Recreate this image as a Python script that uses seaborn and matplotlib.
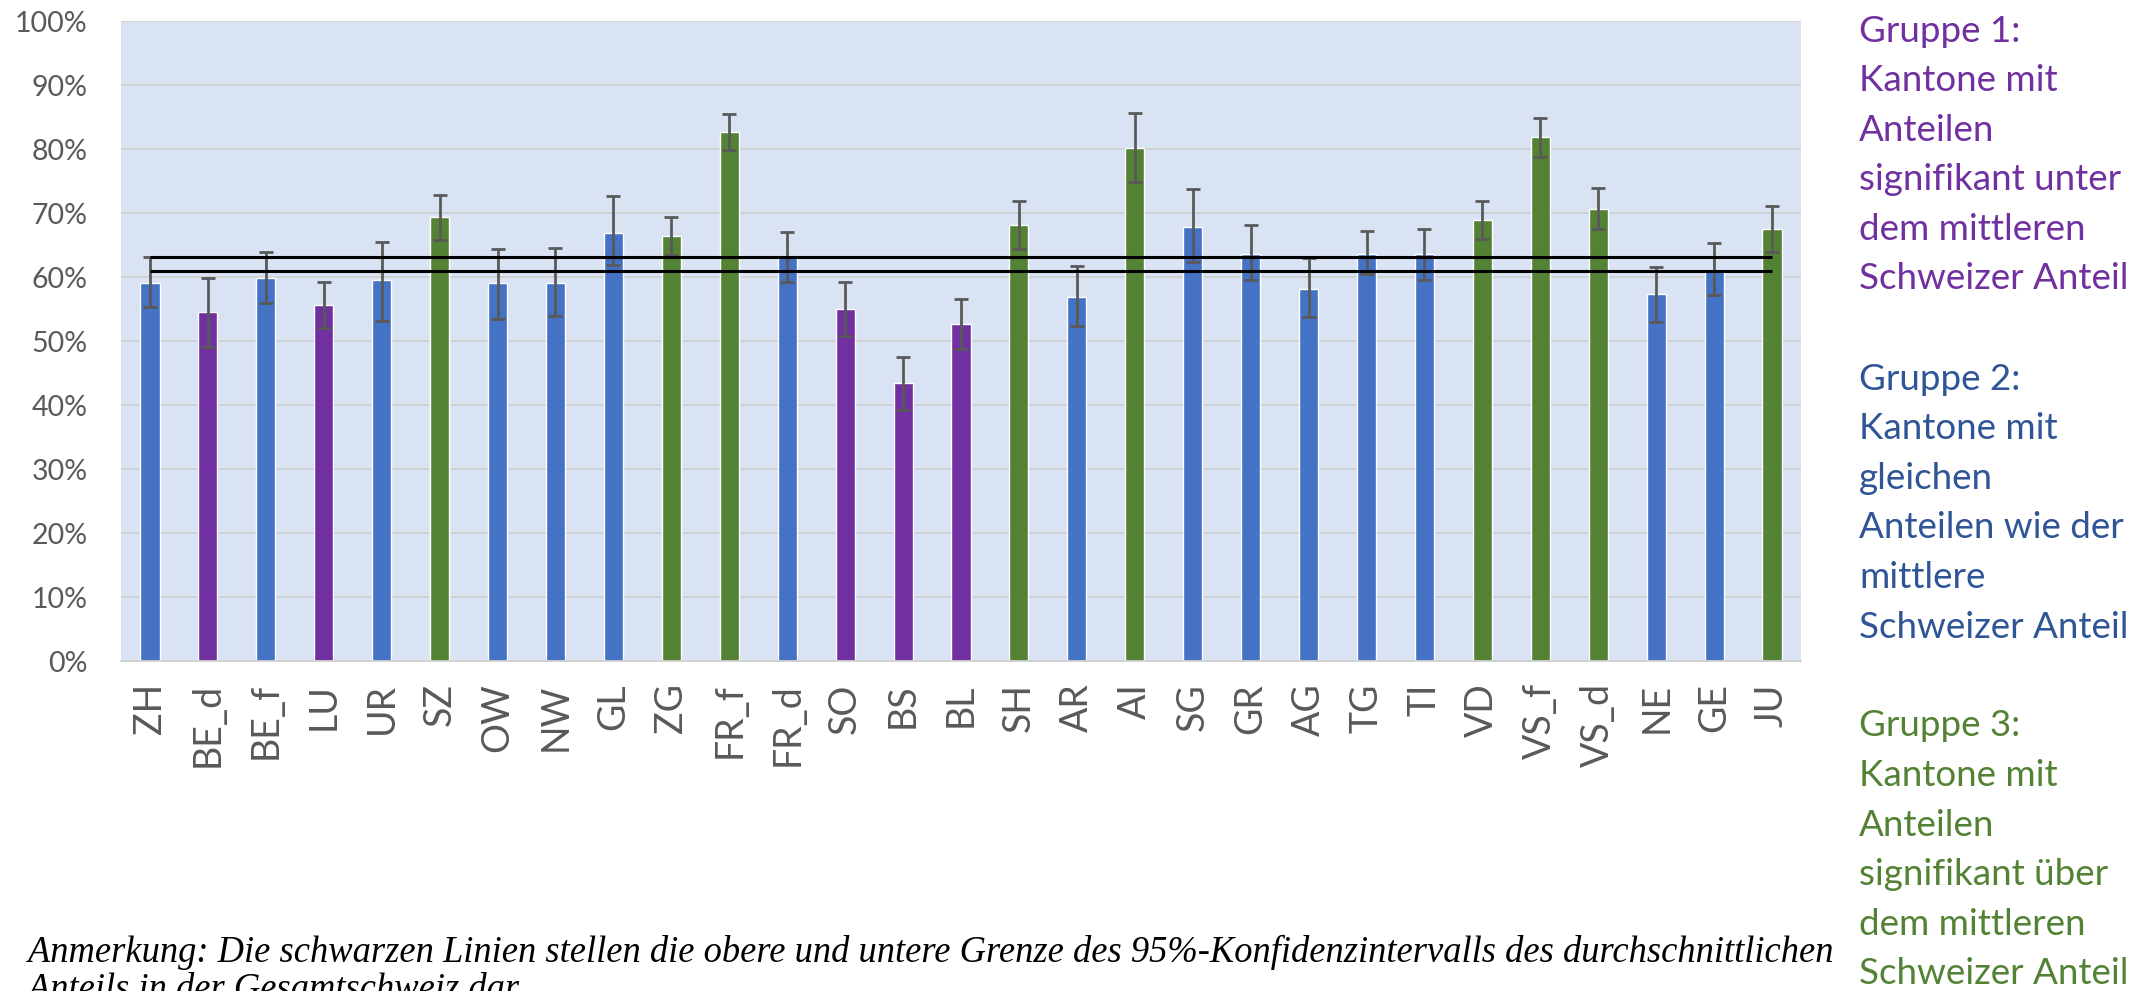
import numpy as np
import pandas as pd
import matplotlib
matplotlib.use("Agg")
import matplotlib.pyplot as plt
import seaborn as sns
from matplotlib.ticker import PercentFormatter, MultipleLocator

cantons = ["ZH", "BE_d", "BE_f", "LU", "UR", "SZ", "OW", "NW", "GL", "ZG",
           "FR_f", "FR_d", "SO", "BS", "BL", "SH", "AR", "AI", "SG", "GR",
           "AG", "TG", "TI", "VD", "VS_f", "VS_d", "NE", "GE", "JU"]
share = [59.0, 54.5, 59.8, 55.6, 59.5, 69.3, 59.0, 59.0, 66.9, 66.4,
         82.6, 63.1, 55.0, 43.4, 52.6, 68.1, 56.9, 80.2, 67.8, 63.6,
         58.2, 63.6, 63.6, 68.9, 81.8, 70.7, 57.3, 61.1, 67.5]
ci_low = [55.3, 49.1, 56.0, 52.0, 53.2, 65.8, 53.5, 53.9, 61.8, 63.4,
          79.8, 59.2, 50.8, 39.2, 48.7, 64.4, 52.3, 74.8, 62.3, 59.5,
          53.7, 60.5, 59.6, 65.9, 78.8, 67.5, 52.9, 57.2, 63.9]
ci_high = [63.2, 59.9, 63.9, 59.2, 65.5, 72.8, 64.4, 64.6, 72.6, 69.4,
           85.4, 67.1, 59.2, 47.5, 56.5, 71.8, 61.7, 85.7, 73.7, 68.1,
           63.0, 67.2, 67.5, 71.9, 84.9, 73.9, 61.6, 65.3, 71.1]
group = [2, 1, 2, 1, 2, 3, 2, 2, 2, 3,
         3, 2, 1, 1, 1, 3, 2, 3, 2, 2,
         2, 2, 2, 3, 3, 3, 2, 2, 3]
ch_ci = [60.9, 63.2]  # lower / upper bound of Swiss mean CI

group_colors = {1: "#7030A0", 2: "#4472C4", 3: "#548235"}
legend_colors = {1: "#7030A0", 2: "#2F5597", 3: "#548235"}
legend_lines = {
    1: ["Gruppe 1:", "Kantone mit", "Anteilen", "signifikant unter",
        "dem mittleren", "Schweizer Anteil"],
    2: ["Gruppe 2:", "Kantone mit", "gleichen", "Anteilen wie der",
        "mittlere", "Schweizer Anteil"],
    3: ["Gruppe 3:", "Kantone mit", "Anteilen", "signifikant über",
        "dem mittleren", "Schweizer Anteil"],
}
note1 = ("Anmerkung: Die schwarzen Linien stellen die obere und untere Grenze "
         "des 95%-Konfidenzintervalls des durchschnittlichen")
note2 = "Anteils in der Gesamtschweiz dar."

df = pd.DataFrame({"canton": cantons, "share": share, "group": group})

sns.set_style("white")
plt.rcParams["font.family"] = ["Lato", "DejaVu Sans"]

W, H = 2156, 991
fig = plt.figure(figsize=(W / 100, H / 100), dpi=100)
ax = fig.add_axes([121 / W, 1 - 661 / H, 1680 / W, 640 / H])
ax.set_facecolor("#DAE3F3")

sns.barplot(data=df, x="canton", y="share", hue="group", palette=group_colors,
            dodge=False, width=0.33, legend=False, ax=ax, errorbar=None,
            order=cantons, saturation=1)

x = np.arange(len(cantons))
s = np.array(share)
yerr = [s - np.array(ci_low), np.array(ci_high) - s]
ax.errorbar(x, s, yerr=yerr, fmt="none", ecolor="#595959", elinewidth=2.0,
            capsize=5, capthick=2.0, zorder=4)

ax.hlines(ch_ci, 0, len(cantons) - 1, colors="black", linewidth=2.2, zorder=5)

ax.set_xlim(-0.5, len(cantons) - 0.5)
ax.set_ylim(0, 100)
ax.yaxis.set_major_locator(MultipleLocator(10))
ax.yaxis.set_major_formatter(PercentFormatter(100, decimals=0))
ax.grid(axis="y", color="#D0D0D0", linewidth=1.3)
ax.set_axisbelow(True)
for sp in ["top", "left", "right"]:
    ax.spines[sp].set_visible(False)
ax.spines["bottom"].set_color("#D0D0D0")
ax.spines["bottom"].set_linewidth(1.3)
ax.set_xlabel("")
ax.set_ylabel("")
ax.tick_params(axis="y", length=0, pad=24, labelsize=20.5, labelcolor="#595959")
ax.tick_params(axis="x", length=0, pad=16, labelsize=27, labelcolor="#595959")
plt.setp(ax.get_xticklabels(), rotation=90)

starts = {1: 31, 2: 379, 3: 726}
step = 49.6
for g in (1, 2, 3):
    for i, line in enumerate(legend_lines[g]):
        fig.text(1859 / W, 1 - (starts[g] + i * step) / H, line,
                 color=legend_colors[g], fontsize=26.5, va="center", ha="left")

fig.text(28 / W, 1 - 952 / H, note1, family="Liberation Serif", style="italic",
         fontsize=26.3, va="center", ha="left", color="black")
fig.text(28 / W, 1 - 990 / H, note2, family="Liberation Serif", style="italic",
         fontsize=26.3, va="center", ha="left", color="black")

fig.savefig("out.png", dpi=100)
